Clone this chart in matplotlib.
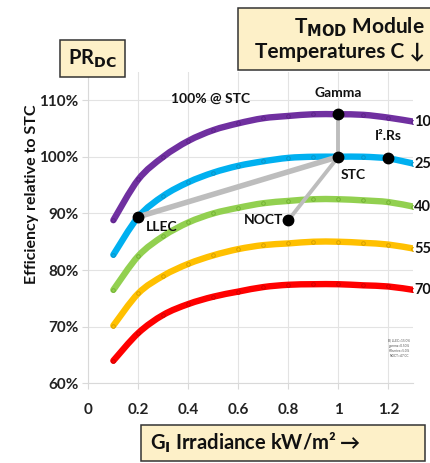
import matplotlib
matplotlib.use("Agg")
import matplotlib.pyplot as plt
from matplotlib.path import Path
from matplotlib.patches import PathPatch, Rectangle
import numpy as np

plt.rcParams['font.family'] = ['Lato', 'DejaVu Sans']

# ---- data ----
irradiance = [0.1, 0.2, 0.3, 0.4, 0.5, 0.6, 0.7, 0.8, 0.9, 1.0, 1.1, 1.2, 1.3]
temps = ["10", "25", "40", "55", "70"]
eff_10 = [88.8, 96.0, 100.0, 102.8, 104.7, 105.9, 106.8, 107.2, 107.5, 107.5, 107.4, 106.9, 106.2]
eff_25 = [82.7, 89.4, 93.1, 95.5, 97.2, 98.4, 99.2, 99.8, 100.0, 100.0, 100.0, 99.7, 98.8]
eff_40 = [76.5, 82.5, 86.0, 88.4, 90.0, 91.0, 91.8, 92.2, 92.5, 92.5, 92.3, 92.0, 91.2]
eff_55 = [70.2, 75.9, 79.0, 81.1, 82.6, 83.7, 84.4, 84.7, 85.0, 85.0, 84.8, 84.5, 83.8]
eff_70 = [64.0, 68.9, 72.1, 74.0, 75.3, 76.2, 77.0, 77.4, 77.5, 77.5, 77.3, 77.1, 76.5]
series = [eff_10, eff_25, eff_40, eff_55, eff_70]
colors = ["#7030A0", "#00B0F0", "#92D050", "#FFC000", "#FF0000"]
marker_edges = ["#5a2185", "#0a8fc0", "#6fae30", "#d09a00", "#cc0000"]

# key points
pt_names = ["LLEC", "STC", "NOCT", "Gamma", "I².Rs"]
pt_x = [0.2, 1.0, 0.8, 1.0, 1.2]
pt_y = [89.4, 100.0, 88.8, 107.5, 99.7]

xticks = [0, 0.2, 0.4, 0.6, 0.8, 1, 1.2]
xtick_labels = ["0", "0.2", "0.4", "0.6", "0.8", "1", "1.2"]
yticks = [60, 70, 80, 90, 100, 110]
ytick_labels = ["60%", "70%", "80%", "90%", "100%", "110%"]


def smooth_path(xs, ys):
    """Excel-style smoothed line: Bezier segments through the data points."""
    P = np.column_stack([xs, ys]).astype(float)
    n = len(P)
    verts = [P[0]]
    codes = [Path.MOVETO]
    for i in range(n - 1):
        p0 = P[i - 1] if i > 0 else P[i]
        p1 = P[i]
        p2 = P[i + 1]
        p3 = P[i + 2] if i + 2 < n else P[i + 1]
        c1 = p1 + (p2 - p0) / 6.0
        c2 = p2 - (p3 - p1) / 6.0
        verts += [c1, c2, p2]
        codes += [Path.CURVE4] * 3
    return Path(verts, codes)


W, H = 431, 463
fig = plt.figure(figsize=(W / 100, H / 100), dpi=100)
ax = fig.add_axes([0.205, 0.172, 0.754, 0.673])
ax.set_xlim(0, 1.3)
ax.set_ylim(60, 115)

ax.grid(True, color="#e3e3e3", linewidth=0.8)
ax.set_axisbelow(True)
for s in ["top", "right"]:
    ax.spines[s].set_visible(False)
ax.spines["left"].set_color("#d9d9d9")
ax.spines["bottom"].set_color("#d9d9d9")
ax.tick_params(axis="both", colors="#d9d9d9", length=4, width=0.8, labelcolor="#222222")

ax.set_xticks(xticks)
ax.set_xticklabels(xtick_labels, fontsize=11, fontweight="bold")
ax.set_yticks(yticks)
ax.set_yticklabels(ytick_labels, fontsize=11, fontweight="bold")
ax.tick_params(axis="x", pad=10)
ax.tick_params(axis="y", pad=3)

# gray connector lines
stc_i = pt_names.index("STC")
for name in ["LLEC", "NOCT", "Gamma"]:
    i = pt_names.index(name)
    ax.plot([pt_x[i], pt_x[stc_i]], [pt_y[i], pt_y[stc_i]], color="#bdbdbd",
            linewidth=4.0 if name == "LLEC" else 2.8, solid_capstyle="butt", zorder=4)

# curves
for vals, c, mc, t in zip(series, colors, marker_edges, temps):
    patch = PathPatch(smooth_path(irradiance, vals), facecolor="none", edgecolor=c,
                      linewidth=4.6, capstyle="round", joinstyle="round",
                      transform=ax.transData, zorder=3)
    ax.add_patch(patch)
    ax.plot(irradiance, vals, linestyle="none", marker="o", markersize=2.6,
            markerfacecolor="none", markeredgecolor=mc, markeredgewidth=0.6, zorder=3.5)
    ax.text(irradiance[-1] + 0.003, vals[-1], t, fontsize=10.5, fontweight="bold",
            ha="left", va="center", color="#111111", clip_on=False)

# key points
ax.plot(pt_x, pt_y, linestyle="none", marker="o", markersize=7.5, color="black", zorder=6)

lbl = dict(fontsize=10, fontweight="bold", color="#111111", zorder=7)
ax.text(0.232, 87.6, "LLEC", ha="left", va="center", **lbl)
ax.text(1.01, 96.7, "STC", ha="left", va="center", **lbl)
ax.text(0.78, 88.9, "NOCT", ha="right", va="center", **lbl)
ax.text(1.0, 111.3, "Gamma", ha="center", va="center", **lbl)
ax.text(1.2, 103.6, "I².Rs", ha="center", va="center", **lbl)
ax.text(0.49, 110.2, "100% @ STC", ha="center", va="center", **lbl)

ax.text(1.285, 66.2, "B) LLEC=15.0%\ngamma=0.50%\nI²Rseries=5.0%\nNOCT=47.0C",
        fontsize=2.3, ha="right", va="center", color="#555555", linespacing=1.3)

fig.text(0.074, 0.581, "Efficiency relative to STC", rotation=90, ha="center", va="center",
         fontsize=11.5, fontweight="bold", color="#111111")


def fig_box(x0, y0, x1, y1):
    """Box in pixel coords from the top-left corner."""
    r = Rectangle((x0 / W, 1 - y1 / H), (x1 - x0) / W, (y1 - y0) / H,
                  transform=fig.transFigure, facecolor="#FDF0C8", edgecolor="#333333",
                  linewidth=1.1, zorder=1)
    fig.add_artist(r)


fig_box(60, 40, 125, 77)
fig.text(92.5 / W, 1 - 58.5 / H, r"PR$_{\mathbf{DC}}$", ha="center", va="center",
         fontsize=14.5, fontweight="bold", color="#111111")

fig_box(238, 8, 440, 70)
fig.text(425 / W, 1 - 39 / H, "T$_{\\mathbf{MOD}}$ Module\nTemperatures C \u2193", ha="right",
         va="center", fontsize=15, fontweight="bold", color="#111111", linespacing=1.2,
         multialignment="right")

fig_box(141, 425, 425, 461)
fig.text(150 / W, 1 - 443 / H, "G$_{\\mathbf{I}}$ Irradiance kW/m² \u2192", ha="left",
         va="center", fontsize=14.5, fontweight="bold", color="#111111")

fig.savefig("out.png", dpi=100)
